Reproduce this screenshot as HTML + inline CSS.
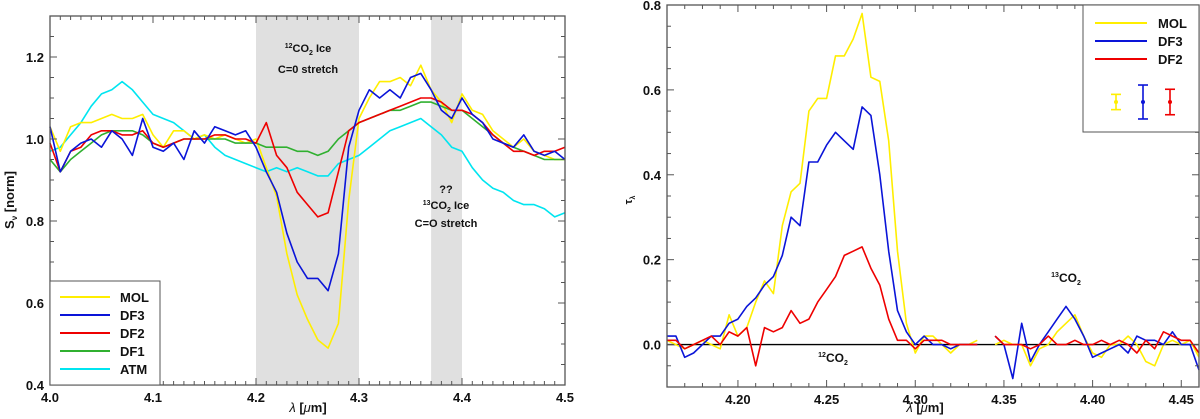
<!DOCTYPE html>
<html><head><meta charset="utf-8">
<style>
body{margin:0;background:#fff;}
svg{display:block;font-family:"Liberation Sans","DejaVu Sans",sans-serif;}
.tk{font-size:13px;font-weight:bold;fill:#111;}
.lab{font-size:11px;font-weight:bold;fill:#111;}
</style></head>
<body>
<svg id="fig" width="1200" height="419" viewBox="0 0 1200 419"></svg>
<script>
// ---------- Left panel data ----------
const leftWave = [4.00,4.01,4.02,4.03,4.04,4.05,4.06,4.07,4.08,4.09,4.10,4.11,4.12,4.13,4.14,4.15,4.16,4.17,4.18,4.19,4.20,4.21,4.22,4.23,4.24,4.25,4.26,4.27,4.28,4.29,4.30,4.31,4.32,4.33,4.34,4.35,4.36,4.37,4.38,4.39,4.40,4.41,4.42,4.43,4.44,4.45,4.46,4.47,4.48,4.49,4.50];
const leftMOL = [1.03,0.97,1.03,1.04,1.04,1.05,1.06,1.05,1.05,1.06,1.01,0.98,1.02,1.02,1.00,1.01,1.00,1.01,1.00,0.99,1.00,0.93,0.86,0.72,0.62,0.56,0.51,0.49,0.55,0.85,1.05,1.10,1.14,1.14,1.15,1.13,1.18,1.12,1.09,1.04,1.11,1.07,1.06,1.02,1.00,0.98,1.00,0.97,0.96,0.95,0.95];
const leftDF3 = [1.03,0.92,0.97,0.99,1.00,0.98,1.02,1.00,0.96,1.05,0.98,0.97,0.99,0.95,1.02,0.99,1.03,1.02,1.01,1.02,0.98,0.92,0.87,0.77,0.70,0.66,0.66,0.63,0.72,0.98,1.07,1.12,1.10,1.12,1.10,1.15,1.16,1.12,1.07,1.05,1.10,1.06,1.04,1.00,0.99,0.98,1.01,0.97,0.96,0.97,0.95];
const leftDF2 = [0.99,0.92,0.97,0.98,1.01,1.02,1.02,1.01,1.01,1.02,0.99,0.98,0.99,1.00,1.00,1.00,1.01,1.01,1.00,1.00,0.99,1.04,0.96,0.93,0.87,0.84,0.81,0.82,0.92,1.02,1.04,1.05,1.06,1.07,1.08,1.09,1.10,1.10,1.09,1.07,1.07,1.06,1.04,1.01,0.99,0.97,0.97,0.96,0.97,0.97,0.98];
const leftDF1 = [0.95,0.92,0.95,0.97,0.99,1.01,1.02,1.02,1.02,1.01,0.99,0.98,0.99,1.00,1.00,1.00,1.00,1.00,0.99,0.99,0.99,0.98,0.98,0.98,0.97,0.97,0.96,0.97,1.00,1.02,1.04,1.05,1.06,1.07,1.07,1.08,1.09,1.09,1.08,1.07,1.07,1.05,1.03,1.01,0.99,0.98,0.97,0.96,0.95,0.95,0.95];
const leftATM = [0.97,0.98,1.01,1.04,1.08,1.11,1.12,1.14,1.12,1.09,1.06,1.05,1.04,1.02,1.00,1.01,0.98,0.96,0.95,0.94,0.93,0.92,0.93,0.92,0.93,0.92,0.91,0.91,0.94,0.95,0.96,0.98,1.00,1.02,1.03,1.04,1.05,1.03,1.01,0.98,0.97,0.93,0.90,0.88,0.87,0.85,0.84,0.84,0.83,0.81,0.82];
const leftXTicks = ["4.0","4.1","4.2","4.3","4.4","4.5"];
const leftYTicks = ["0.4","0.6","0.8","1.0","1.2"];
const leftBands = [[4.20,4.30],[4.37,4.40]];

// ---------- Right panel data ----------
const rightWave = [4.160,4.165,4.170,4.175,4.180,4.185,4.190,4.195,4.200,4.205,4.210,4.215,4.220,4.225,4.230,4.235,4.240,4.245,4.250,4.255,4.260,4.265,4.270,4.275,4.280,4.285,4.290,4.295,4.300,4.305,4.310,4.315,4.320,4.325,4.330,4.335,4.340,4.345,4.350,4.355,4.360,4.365,4.370,4.375,4.380,4.385,4.390,4.395,4.400,4.405,4.410,4.415,4.420,4.425,4.430,4.435,4.440,4.445,4.450,4.455,4.460];
const rightMOL = [0.01,0.0,-0.01,0.0,0.01,0.0,-0.01,0.07,0.02,0.04,0.10,0.15,0.12,0.28,0.36,0.38,0.55,0.58,0.58,0.68,0.68,0.72,0.78,0.63,0.62,0.48,0.22,0.05,-0.02,0.02,0.02,0.0,-0.02,0.0,0.0,0.01,null,0.0,0.01,0.0,0.0,-0.05,-0.01,0.0,0.03,0.05,0.07,0.02,-0.02,-0.03,0.0,0.0,0.02,0.0,-0.04,-0.05,0.0,0.01,0.0,0.01,-0.03];
const rightDF3 = [0.02,0.02,-0.03,-0.02,0.0,0.02,0.02,0.05,0.06,0.09,0.11,0.14,0.16,0.21,0.30,0.28,0.43,0.43,0.47,0.50,0.48,0.46,0.56,0.54,0.40,0.22,0.08,0.03,0.0,0.02,0.0,0.0,-0.01,0.0,0.0,0.0,null,0.02,0.0,-0.08,0.05,-0.04,0.0,0.03,0.06,0.09,0.06,0.02,-0.03,-0.02,-0.01,0.0,-0.02,0.02,0.01,0.01,0.0,0.03,0.0,0.0,-0.06];
const rightDF2 = [0.01,0.01,-0.01,0.0,0.01,0.02,0.0,0.03,0.02,0.04,-0.05,0.04,0.03,0.04,0.08,0.05,0.06,0.10,0.13,0.16,0.21,0.22,0.23,0.18,0.14,0.06,0.01,0.01,-0.01,0.01,0.01,0.01,0.0,0.0,0.0,0.0,null,0.02,0.0,0.0,0.0,-0.01,0.0,0.02,0.0,0.0,0.01,0.0,0.0,0.01,0.0,0.01,0.0,-0.02,0.01,-0.01,0.03,0.02,0.01,0.01,-0.02];
const rightXTicks = ["4.20","4.25","4.30","4.35","4.40","4.45"];
const rightYTicks = ["0.0","0.2","0.4","0.6","0.8"];
const errHalf = [0.018,0.04,0.03];

const NS="http://www.w3.org/2000/svg";
const svg=document.getElementById('fig');
function mk(tag,attrs,parent){const e=document.createElementNS(NS,tag);for(const k in attrs)e.setAttribute(k,attrs[k]);(parent||svg).appendChild(e);return e;}

function panel(cfg){
  const g=mk('g',{});
  
  
  const X=v=>cfg.x0+(v-cfg.xmin)/(cfg.xmax-cfg.xmin)*(cfg.x1-cfg.x0);
  const Y=v=>cfg.y1-(v-cfg.ymin)/(cfg.ymax-cfg.ymin)*(cfg.y1-cfg.y0);
  return {g,X,Y};
}
function drawFrame(p,cfg){
  const {g,X,Y}=p;
  for(let i=0;;i++){const v=cfg.xmin+i*cfg.xminor; if(v>cfg.xmax+1e-9)break;
    const isMaj=Math.abs(Math.round((v-cfg.xmajor0)/cfg.xmajor)*cfg.xmajor+cfg.xmajor0-v)<1e-6;
    const L=isMaj?7:4; const x=X(v);
    mk('line',{x1:x,x2:x,y1:cfg.y1,y2:cfg.y1-L,stroke:'#555','stroke-width':1},g);
    mk('line',{x1:x,x2:x,y1:cfg.y0,y2:cfg.y0+L,stroke:'#555','stroke-width':1},g);}
  for(let i=0;;i++){const v=cfg.ymin+i*cfg.yminor; if(v>cfg.ymax+1e-9)break;
    const isMaj=Math.abs(Math.round(v/0.2)*0.2-v)<1e-6;
    const L=isMaj?7:4; const y=Y(v);
    mk('line',{x1:cfg.x0,x2:cfg.x0+L,y1:y,y2:y,stroke:'#555','stroke-width':1},g);
    mk('line',{x1:cfg.x1,x2:cfg.x1-L,y1:y,y2:y,stroke:'#555','stroke-width':1},g);}
  const fr=mk('rect',{x:cfg.x0,y:cfg.y0,width:cfg.x1-cfg.x0,height:cfg.y1-cfg.y0,fill:'none',stroke:'#555','stroke-width':1.3},g);
  
  
  cfg.xt.forEach(t=>{const e=mk('text',{x:X(+t),y:cfg.y1+17,'text-anchor':'middle',class:'tk'},g);e.textContent=t;
    
    });
  cfg.yt.forEach(t=>{const e=mk('text',{x:cfg.x0-6,y:Y(+t)+5,'text-anchor':'end',class:'tk'},g);e.textContent=t;
    
    });
}
function series(p,xs,ys,color,name){
  let d='',pen=false;
  xs.forEach((x,i)=>{const v=ys[i]; if(v===null||v===undefined){pen=false;return;}
    d+=(pen?'L':'M')+p.X(x).toFixed(1)+','+p.Y(v).toFixed(1); pen=true;});
  const e=mk('path',{d,fill:'none',stroke:color,'stroke-width':1.6,'stroke-linejoin':'round'},p.g);
  
  
}
function txt(g,x,y,html,cls,name,anchor){
  const e=mk('text',{x,y,class:cls||'lab','text-anchor':anchor||'middle'},g);
  e.innerHTML=html;
  
  
  return e;
}

// ----- Left panel -----
const LC={name:'left-panel',x0:50,x1:565,y0:16,y1:385,xmin:4.0,xmax:4.5,ymin:0.4,ymax:1.3,xminor:0.01,xmajor:0.1,xmajor0:4.0,yminor:0.05,xt:leftXTicks,yt:leftYTicks};
const LP=panel(LC);
leftBands.forEach(b=>{const r=mk('rect',{x:LP.X(b[0]),y:LC.y0,width:LP.X(b[1])-LP.X(b[0]),height:LC.y1-LC.y0,fill:'#e0e0e0'},LP.g);
  
  });
series(LP,leftWave,leftATM,'#00e5f0','atm-line');
series(LP,leftWave,leftMOL,'#ffee00','mol-line');
series(LP,leftWave,leftDF1,'#30b030','df1-line');
series(LP,leftWave,leftDF2,'#ee0000','df2-line');
series(LP,leftWave,leftDF3,'#0a14d8','df3-line');
drawFrame(LP,LC);
txt(LP.g,308,52,'<tspan font-size="7" dy="-4">12</tspan><tspan dy="4">CO</tspan><tspan font-size="7" dy="3">2</tspan><tspan dy="-3"> Ice</tspan>','lab','co2-ice-label');
txt(LP.g,308,73,'C=0 stretch','lab','c0-stretch-label');
txt(LP.g,446,193,'??','lab','question-label');
txt(LP.g,446,209,'<tspan font-size="7" dy="-4">13</tspan><tspan dy="4">CO</tspan><tspan font-size="7" dy="3">2</tspan><tspan dy="-3"> Ice</tspan>','lab','13co2-ice-label');
txt(LP.g,446,227,'C=O stretch','lab','co-stretch-label');
const lg=mk('g',{},LP.g);


mk('rect',{x:50,y:281,width:110,height:104,fill:'#fff',stroke:'#555','stroke-width':1},lg);
[['MOL','#ffee00'],['DF3','#0a14d8'],['DF2','#ee0000'],['DF1','#30b030'],['ATM','#00e5f0']].forEach((e,i)=>{
  const y=297+i*18;
  mk('line',{x1:60,x2:110,y1:y,y2:y,stroke:e[1],'stroke-width':2},lg);
  txt(lg,120,y+5,e[0],'tk','legend-entry','start');});
txt(LP.g,308,412,'<tspan font-style="italic" font-weight="normal">λ</tspan> [<tspan font-style="italic" font-weight="normal">μ</tspan>m]','tk','x-axis-title');
const ylab=txt(LP.g,0,0,'S<tspan font-size="8" dy="3">ν</tspan><tspan dy="-3"> [norm]</tspan>','tk','y-axis-title');
ylab.setAttribute('transform','translate(14,200) rotate(-90)');

// ----- Right panel -----
const RC={name:'right-panel',x0:667,x1:1199,y0:5,y1:387,xmin:4.16,xmax:4.46,ymin:-0.1,ymax:0.8,xminor:0.01,xmajor:0.05,xmajor0:4.20,yminor:0.05,xt:rightXTicks,yt:rightYTicks};
const RP=panel(RC);
const zl=mk('line',{x1:RC.x0,x2:RC.x1,y1:RP.Y(0),y2:RP.Y(0),stroke:'#000','stroke-width':1.3},RP.g);


series(RP,rightWave,rightMOL,'#ffee00','mol-tau-line');
series(RP,rightWave,rightDF3,'#0a14d8','df3-tau-line');
series(RP,rightWave,rightDF2,'#ee0000','df2-tau-line');
drawFrame(RP,RC);
txt(RP.g,833,362,'<tspan font-size="7" dy="-5">12</tspan><tspan dy="5" font-size="12">CO</tspan><tspan font-size="7" dy="3">2</tspan>','lab','12co2-label');
txt(RP.g,1066,282,'<tspan font-size="7" dy="-5">13</tspan><tspan dy="5" font-size="12">CO</tspan><tspan font-size="7" dy="3">2</tspan>','lab','13co2-label');
const rg=mk('g',{},RP.g);


mk('rect',{x:1083,y:5,width:116,height:127,fill:'#fff',stroke:'#555','stroke-width':1},rg);
const rcol=['#ffee00','#0a14d8','#ee0000'];
['MOL','DF3','DF2'].forEach((n,i)=>{const y=23+i*18;
  mk('line',{x1:1095,x2:1147,y1:y,y2:y,stroke:rcol[i],'stroke-width':2},rg);
  txt(rg,1158,y+5,n,'tk','legend-entry','start');});
const errX=[1116,1143,1170];
const errScale=(RC.y1-RC.y0)/(RC.ymax-RC.ymin);
errHalf.forEach((eh,i)=>{const h=eh*errScale;
  const eg=mk('g',{},rg);
  
  
  const yy=102;
  mk('line',{x1:errX[i],x2:errX[i],y1:yy-h,y2:yy+h,stroke:rcol[i],'stroke-width':1.6},eg);
  mk('line',{x1:errX[i]-5,x2:errX[i]+5,y1:yy-h,y2:yy-h,stroke:rcol[i],'stroke-width':1.6},eg);
  mk('line',{x1:errX[i]-5,x2:errX[i]+5,y1:yy+h,y2:yy+h,stroke:rcol[i],'stroke-width':1.6},eg);
  mk('circle',{cx:errX[i],cy:yy,r:2,fill:rcol[i]},eg);});
txt(RP.g,925,412,'<tspan font-style="italic" font-weight="normal">λ</tspan> [<tspan font-style="italic" font-weight="normal">μ</tspan>m]','tk','x-axis-title');
const rylab=txt(RP.g,0,0,'τ<tspan font-size="7" dy="3">λ</tspan>','lab','y-axis-title');
rylab.setAttribute('font-weight','normal');
rylab.setAttribute('transform','translate(632,200) rotate(-90)');
</script>
</body></html>
